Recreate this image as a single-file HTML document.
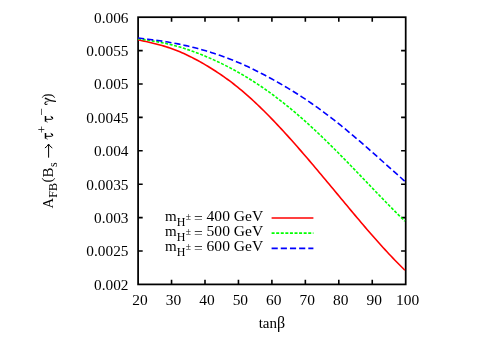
<!DOCTYPE html>
<html><head><meta charset="utf-8"><title>plot</title>
<style>
html,body{margin:0;padding:0;background:#fff;}
body{width:495px;height:346px;overflow:hidden;}
svg{display:block;will-change:transform;}
text{font-family:"Liberation Serif",serif;font-size:15px;fill:#000;}
.sub{font-size:12px;}
.ss{font-size:9.6px;}
</style></head><body>
<svg width="495" height="346" viewBox="0 0 495 346">
<rect x="0" y="0" width="495" height="346" fill="#fff"/>
<g fill="none" stroke="#000" stroke-width="1.75" stroke-linecap="butt" stroke-linejoin="miter">
<rect x="138.1" y="17.2" width="267.60" height="267.20"/>
<path d="M171.55,284.4 v-4.6 M171.55,17.2 v4.6 M138.1,50.60 h4.6 M405.7,50.60 h-4.6 M205.00,284.4 v-4.6 M205.00,17.2 v4.6 M138.1,84.00 h4.6 M405.7,84.00 h-4.6 M238.45,284.4 v-4.6 M238.45,17.2 v4.6 M138.1,117.40 h4.6 M405.7,117.40 h-4.6 M271.90,284.4 v-4.6 M271.90,17.2 v4.6 M138.1,150.80 h4.6 M405.7,150.80 h-4.6 M305.35,284.4 v-4.6 M305.35,17.2 v4.6 M138.1,184.20 h4.6 M405.7,184.20 h-4.6 M338.80,284.4 v-4.6 M338.80,17.2 v4.6 M138.1,217.60 h4.6 M405.7,217.60 h-4.6 M372.25,284.4 v-4.6 M372.25,17.2 v4.6 M138.1,251.00 h4.6 M405.7,251.00 h-4.6" stroke-width="1.6"/>
</g>
<g fill="none" stroke-width="1.6" stroke-linecap="butt" stroke-linejoin="round">
<path d="M138.10,39.80 L140.09,40.23 L142.08,40.67 L144.07,41.11 L146.06,41.55 L148.06,42.00 L150.05,42.46 L152.04,42.94 L154.03,43.42 L156.02,43.93 L158.01,44.45 L160.00,44.99 L161.99,45.55 L163.98,46.13 L165.97,46.74 L167.97,47.38 L169.96,48.04 L171.95,48.74 L173.94,49.47 L175.93,50.23 L177.92,51.03 L179.91,51.85 L181.90,52.70 L183.89,53.59 L185.89,54.50 L187.88,55.44 L189.87,56.41 L191.86,57.40 L193.85,58.42 L195.84,59.47 L197.83,60.54 L199.82,61.64 L201.81,62.76 L203.80,63.90 L205.80,65.07 L207.79,66.26 L209.78,67.47 L211.77,68.70 L213.76,69.96 L215.75,71.24 L217.74,72.55 L219.73,73.89 L221.72,75.25 L223.71,76.63 L225.71,78.05 L227.70,79.49 L229.69,80.97 L231.68,82.47 L233.67,84.00 L235.66,85.56 L237.65,87.15 L239.64,88.78 L241.63,90.43 L243.63,92.12 L245.62,93.84 L247.61,95.58 L249.60,97.36 L251.59,99.16 L253.58,100.99 L255.57,102.85 L257.56,104.73 L259.55,106.64 L261.54,108.57 L263.54,110.53 L265.53,112.51 L267.52,114.52 L269.51,116.54 L271.50,118.59 L273.49,120.65 L275.48,122.74 L277.47,124.85 L279.46,126.97 L281.46,129.11 L283.45,131.27 L285.44,133.45 L287.43,135.64 L289.42,137.85 L291.41,140.07 L293.40,142.31 L295.39,144.56 L297.38,146.83 L299.37,149.10 L301.37,151.39 L303.36,153.69 L305.35,156.00 L307.34,158.32 L309.33,160.64 L311.32,162.98 L313.31,165.33 L315.30,167.68 L317.29,170.04 L319.29,172.40 L321.28,174.77 L323.27,177.15 L325.26,179.53 L327.25,181.92 L329.24,184.30 L331.23,186.70 L333.22,189.09 L335.21,191.48 L337.20,193.88 L339.20,196.28 L341.19,198.67 L343.18,201.07 L345.17,203.46 L347.16,205.85 L349.15,208.24 L351.14,210.62 L353.13,213.00 L355.12,215.37 L357.11,217.74 L359.11,220.09 L361.10,222.44 L363.09,224.78 L365.08,227.11 L367.07,229.43 L369.06,231.73 L371.05,234.03 L373.04,236.31 L375.03,238.57 L377.03,240.82 L379.02,243.05 L381.01,245.27 L383.00,247.47 L384.99,249.65 L386.98,251.81 L388.97,253.95 L390.96,256.07 L392.95,258.16 L394.94,260.23 L396.94,262.28 L398.93,264.31 L400.92,266.31 L402.91,268.28 L404.90,270.23" stroke="#ff0000"/>
<path d="M138.10,38.70 L140.09,39.00 L142.08,39.30 L144.07,39.60 L146.06,39.90 L148.06,40.21 L150.05,40.53 L152.04,40.86 L154.03,41.19 L156.02,41.54 L158.01,41.90 L160.00,42.28 L161.99,42.67 L163.98,43.07 L165.97,43.50 L167.97,43.94 L169.96,44.41 L171.95,44.90 L173.94,45.41 L175.93,45.95 L177.92,46.51 L179.91,47.09 L181.90,47.69 L183.89,48.31 L185.89,48.95 L187.88,49.62 L189.87,50.30 L191.86,51.01 L193.85,51.73 L195.84,52.47 L197.83,53.23 L199.82,54.00 L201.81,54.80 L203.80,55.61 L205.80,56.43 L207.79,57.27 L209.78,58.13 L211.77,59.00 L213.76,59.89 L215.75,60.80 L217.74,61.73 L219.73,62.67 L221.72,63.63 L223.71,64.60 L225.71,65.60 L227.70,66.61 L229.69,67.64 L231.68,68.69 L233.67,69.76 L235.66,70.84 L237.65,71.95 L239.64,73.08 L241.63,74.22 L243.63,75.39 L245.62,76.57 L247.61,77.78 L249.60,79.00 L251.59,80.25 L253.58,81.51 L255.57,82.80 L257.56,84.10 L259.55,85.43 L261.54,86.78 L263.54,88.14 L265.53,89.53 L267.52,90.93 L269.51,92.36 L271.50,93.81 L273.49,95.27 L275.48,96.76 L277.47,98.27 L279.46,99.80 L281.46,101.35 L283.45,102.91 L285.44,104.50 L287.43,106.11 L289.42,107.73 L291.41,109.38 L293.40,111.04 L295.39,112.72 L297.38,114.42 L299.37,116.14 L301.37,117.87 L303.36,119.63 L305.35,121.40 L307.34,123.19 L309.33,124.99 L311.32,126.81 L313.31,128.65 L315.30,130.50 L317.29,132.37 L319.29,134.25 L321.28,136.15 L323.27,138.06 L325.26,139.99 L327.25,141.93 L329.24,143.88 L331.23,145.84 L333.22,147.81 L335.21,149.80 L337.20,151.79 L339.20,153.80 L341.19,155.82 L343.18,157.84 L345.17,159.87 L347.16,161.92 L349.15,163.96 L351.14,166.02 L353.13,168.08 L355.12,170.14 L357.11,172.21 L359.11,174.29 L361.10,176.36 L363.09,178.44 L365.08,180.52 L367.07,182.60 L369.06,184.67 L371.05,186.75 L373.04,188.83 L375.03,190.90 L377.03,192.97 L379.02,195.04 L381.01,197.10 L383.00,199.16 L384.99,201.21 L386.98,203.25 L388.97,205.29 L390.96,207.31 L392.95,209.33 L394.94,211.34 L396.94,213.34 L398.93,215.33 L400.92,217.31 L402.91,219.27 L404.90,221.22" stroke="#00ff00" stroke-dasharray="3 1.58"/>
<path d="M138.10,37.96 L140.09,38.20 L142.08,38.45 L144.07,38.70 L146.06,38.95 L148.06,39.20 L150.05,39.46 L152.04,39.72 L154.03,39.98 L156.02,40.26 L158.01,40.54 L160.00,40.83 L161.99,41.12 L163.98,41.43 L165.97,41.75 L167.97,42.08 L169.96,42.42 L171.95,42.77 L173.94,43.14 L175.93,43.52 L177.92,43.91 L179.91,44.32 L181.90,44.74 L183.89,45.18 L185.89,45.62 L187.88,46.08 L189.87,46.56 L191.86,47.05 L193.85,47.55 L195.84,48.06 L197.83,48.59 L199.82,49.13 L201.81,49.69 L203.80,50.25 L205.80,50.83 L207.79,51.43 L209.78,52.04 L211.77,52.66 L213.76,53.29 L215.75,53.95 L217.74,54.61 L219.73,55.29 L221.72,55.99 L223.71,56.70 L225.71,57.43 L227.70,58.18 L229.69,58.94 L231.68,59.72 L233.67,60.51 L235.66,61.33 L237.65,62.16 L239.64,63.01 L241.63,63.88 L243.63,64.77 L245.62,65.67 L247.61,66.59 L249.60,67.53 L251.59,68.48 L253.58,69.45 L255.57,70.43 L257.56,71.43 L259.55,72.44 L261.54,73.47 L263.54,74.50 L265.53,75.56 L267.52,76.62 L269.51,77.69 L271.50,78.78 L273.49,79.88 L275.48,80.99 L277.47,82.11 L279.46,83.24 L281.46,84.38 L283.45,85.54 L285.44,86.71 L287.43,87.89 L289.42,89.09 L291.41,90.30 L293.40,91.52 L295.39,92.76 L297.38,94.02 L299.37,95.29 L301.37,96.58 L303.36,97.88 L305.35,99.20 L307.34,100.53 L309.33,101.89 L311.32,103.26 L313.31,104.64 L315.30,106.05 L317.29,107.47 L319.29,108.90 L321.28,110.35 L323.27,111.82 L325.26,113.30 L327.25,114.80 L329.24,116.32 L331.23,117.85 L333.22,119.39 L335.21,120.95 L337.20,122.53 L339.20,124.12 L341.19,125.72 L343.18,127.34 L345.17,128.97 L347.16,130.62 L349.15,132.27 L351.14,133.94 L353.13,135.62 L355.12,137.31 L357.11,139.01 L359.11,140.72 L361.10,142.44 L363.09,144.17 L365.08,145.90 L367.07,147.64 L369.06,149.39 L371.05,151.14 L373.04,152.90 L375.03,154.66 L377.03,156.43 L379.02,158.20 L381.01,159.98 L383.00,161.76 L384.99,163.53 L386.98,165.31 L388.97,167.09 L390.96,168.87 L392.95,170.65 L394.94,172.43 L396.94,174.21 L398.93,175.99 L400.92,177.76 L402.91,179.53 L404.90,181.29" stroke="#0000ff" stroke-dasharray="6.15 3.025"/>
<path d="M271.6,217.95 H313.4" stroke="#ff0000"/>
<path d="M271.6,233.1 H313.4" stroke="#00ff00" stroke-dasharray="3 1.58"/>
<path d="M271.6,248.4 H313.4" stroke="#0000ff" stroke-dasharray="6.15 3.025"/>
</g>
<text transform="translate(128.5,22.60) scale(1.022,1)" text-anchor="end">0.006</text>
<text transform="translate(128.5,56.00) scale(1.022,1)" text-anchor="end">0.0055</text>
<text transform="translate(128.5,89.40) scale(1.022,1)" text-anchor="end">0.005</text>
<text transform="translate(128.5,122.80) scale(1.022,1)" text-anchor="end">0.0045</text>
<text transform="translate(128.5,156.20) scale(1.022,1)" text-anchor="end">0.004</text>
<text transform="translate(128.5,189.60) scale(1.022,1)" text-anchor="end">0.0035</text>
<text transform="translate(128.5,223.00) scale(1.022,1)" text-anchor="end">0.003</text>
<text transform="translate(128.5,256.40) scale(1.022,1)" text-anchor="end">0.0025</text>
<text transform="translate(128.5,289.80) scale(1.022,1)" text-anchor="end">0.002</text>
<text transform="translate(140.00,304.9) scale(1.03,1)" text-anchor="middle">20</text>
<text transform="translate(173.45,304.9) scale(1.03,1)" text-anchor="middle">30</text>
<text transform="translate(206.90,304.9) scale(1.03,1)" text-anchor="middle">40</text>
<text transform="translate(240.35,304.9) scale(1.03,1)" text-anchor="middle">50</text>
<text transform="translate(273.80,304.9) scale(1.03,1)" text-anchor="middle">60</text>
<text transform="translate(307.25,304.9) scale(1.03,1)" text-anchor="middle">70</text>
<text transform="translate(340.70,304.9) scale(1.03,1)" text-anchor="middle">80</text>
<text transform="translate(374.15,304.9) scale(1.03,1)" text-anchor="middle">90</text>
<text transform="translate(407.60,304.9) scale(1.03,1)" text-anchor="middle">100</text>
<text x="271.9" y="327.6" text-anchor="middle">tan<tspan style="font-size:16px">β</tspan></text>
<text x="165.0" y="221.40">m</text>
<text x="176.75" y="225.70" class="sub">H</text>
<text x="185.75" y="220.00" class="ss">±</text>
<text transform="translate(193.95,222.80) scale(1.036,1)">=</text>
<text transform="translate(206.6,221.40) scale(1.036,1)">400 GeV</text>
<text x="165.0" y="236.40">m</text>
<text x="176.75" y="240.70" class="sub">H</text>
<text x="185.75" y="235.00" class="ss">±</text>
<text transform="translate(193.95,237.80) scale(1.036,1)">=</text>
<text transform="translate(206.6,236.40) scale(1.036,1)">500 GeV</text>
<text x="165.0" y="251.40">m</text>
<text x="176.75" y="255.70" class="sub">H</text>
<text x="185.75" y="250.00" class="ss">±</text>
<text transform="translate(193.95,252.80) scale(1.036,1)">=</text>
<text transform="translate(206.6,251.40) scale(1.036,1)">600 GeV</text>
<g transform="translate(53.1,207.9) rotate(-90)">
<text transform="translate(-0.60,0.00) scale(0.97,1)">A</text>
<text transform="translate(10.20,3.60) scale(1.0,1)" style="font-size:12px">FB</text>
<text transform="translate(25.40,-1.00) scale(1.0,1)">(</text>
<text transform="translate(30.40,0.00) scale(1.0,1)">B</text>
<text transform="translate(41.00,3.60) scale(1.0,1)" style="font-size:12px">s</text>
<path d="M50.25,-4.5 H63.5 M59.9,-8.2 Q61.6,-5.6 63.85,-4.5 Q61.6,-3.4 59.9,-0.8" fill="none" stroke="#000" stroke-width="1.0"/>
<g transform="translate(68.40,0)" fill="none" stroke="#000" stroke-linecap="round" stroke-linejoin="round"><path d="M0.9,-7.6 L6.5,-7.6" stroke-width="1.5" stroke-linecap="butt"/><path d="M0.25,-5.7 Q0.3,-6.7 1.1,-7.1" stroke-width="0.6"/><path d="M3.2,-7.4 L3.2,-1.7 Q3.2,-0.45 4.2,-0.45 Q5.0,-0.5 5.3,-1.3" stroke-width="1.0"/><path d="M4.6,-0.6 Q5.1,-0.8 5.3,-1.4" stroke-width="1.35"/><path d="M5.3,-1.3 L6.1,-2.4" stroke-width="0.6"/></g>
<text transform="translate(74.60,-7.60) scale(1.0,1)" style="font-size:13px">+</text>
<g transform="translate(85.40,0)" fill="none" stroke="#000" stroke-linecap="round" stroke-linejoin="round"><path d="M0.9,-7.6 L6.5,-7.6" stroke-width="1.5" stroke-linecap="butt"/><path d="M0.25,-5.7 Q0.3,-6.7 1.1,-7.1" stroke-width="0.6"/><path d="M3.2,-7.4 L3.2,-1.7 Q3.2,-0.45 4.2,-0.45 Q5.0,-0.5 5.3,-1.3" stroke-width="1.0"/><path d="M4.6,-0.6 Q5.1,-0.8 5.3,-1.4" stroke-width="1.35"/><path d="M5.3,-1.3 L6.1,-2.4" stroke-width="0.6"/></g>
<text transform="translate(92.10,-7.60) scale(1.0,1)" style="font-size:13px">−</text>
<g transform="translate(103.00,0)" fill="none" stroke="#000" stroke-linecap="round" stroke-linejoin="round"><path d="M0.75,-6.0 Q0.2,-6.9 0.55,-7.6 Q1.0,-8.5 1.8,-8.2 Q2.5,-7.9 2.8,-7.4" stroke-width="1.05"/><path d="M2.8,-7.4 L4.6,-2.95" stroke-width="0.6"/><path d="M6.25,-8.25 L7.4,-7.8 L4.85,-2.7 L4.15,-3.0 Z" fill="#000" stroke-width="0.2"/><path d="M4.35,-2.6 L3.6,2.3" stroke-width="1.25"/></g>
<text transform="translate(109.50,-1.00) scale(1.0,1)">)</text>
</g>
</svg></body></html>
